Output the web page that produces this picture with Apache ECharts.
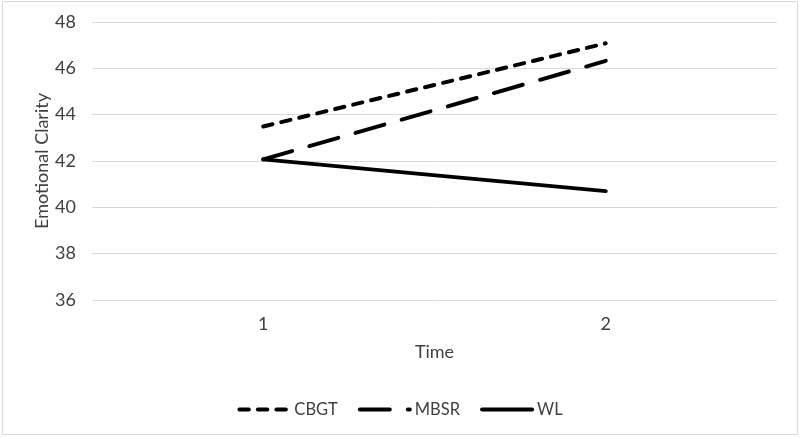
<!DOCTYPE html>
<html>
<head>
<meta charset="utf-8">
<script src="https://cdn.jsdelivr.net/npm/echarts@6/dist/echarts.min.js"></script>
<style>
  html, body { margin: 0; padding: 0; background: #fff; }
  #chart { width: 800px; height: 437px; }
</style>
</head>
<body>
<div id="chart"></div>
<script>
const categories = ['1', '2'];
const cbgt = [43.49, 47.08];
const mbsr = [42.07, 46.32];
const wl = [42.07, 40.7];
const yTicks = { min: 36, max: 48, interval: 2 };

const fontFamily = 'Lato, "Open Sans", sans-serif';
const textColor = '#404040';

const chart = echarts.init(document.getElementById('chart'), null, { renderer: 'canvas' });
chart.setOption({
  animation: false,
  backgroundColor: '#ffffff',
  graphic: [{
    type: 'rect',
    shape: { x: 2.5, y: 1.5, width: 795, height: 433 },
    style: { fill: 'none', stroke: '#d9d9d9', lineWidth: 1 },
    silent: true
  }],
  grid: { left: 92, right: 23, top: 22, bottom: 137, containLabel: false },
  xAxis: {
    type: 'category',
    data: categories,
    boundaryGap: true,
    name: 'Time',
    nameLocation: 'middle',
    nameGap: 43,
    nameMoveOverlap: false,
    nameTextStyle: { fontFamily, fontSize: 18, color: textColor },
    axisLine: { show: false },
    axisTick: { show: false },
    axisLabel: { fontFamily, fontSize: 18, color: textColor, margin: 15 }
  },
  yAxis: {
    type: 'value',
    min: yTicks.min,
    max: yTicks.max,
    interval: yTicks.interval,
    name: 'Emotional Clarity',
    nameLocation: 'middle',
    nameGap: 41,
    nameMoveOverlap: false,
    nameTextStyle: { fontFamily, fontSize: 18, color: textColor },
    axisLine: { show: false },
    axisTick: { show: false },
    axisLabel: { fontFamily, fontSize: 18, color: textColor, margin: 16 },
    splitLine: { lineStyle: { color: '#d9d9d9', width: 1 } }
  },
  legend: {
    top: 396,
    left: 'center',
    itemWidth: 50,
    itemHeight: 14,
    itemGap: 20,
    textStyle: { fontFamily, fontSize: 16.5, color: textColor },
    lineStyle: { width: 4 },
    itemStyle: { color: 'rgba(0,0,0,0)', borderWidth: 0, opacity: 0 },
    data: ['CBGT', 'MBSR', 'WL']
  },
  series: [
    {
      name: 'CBGT', type: 'line', data: cbgt, symbol: 'none',
      lineStyle: { color: '#000', width: 4, type: [9.5, 9], cap: 'round' },
      itemStyle: { color: '#000' }
    },
    {
      name: 'MBSR', type: 'line', data: mbsr, symbol: 'none',
      lineStyle: { color: '#000', width: 4, type: [30, 18], cap: 'round' },
      itemStyle: { color: '#000' }
    },
    {
      name: 'WL', type: 'line', data: wl, symbol: 'none',
      lineStyle: { color: '#000', width: 4, type: 'solid', cap: 'round' },
      itemStyle: { color: '#000' }
    }
  ]
});
</script>
</body>
</html>
